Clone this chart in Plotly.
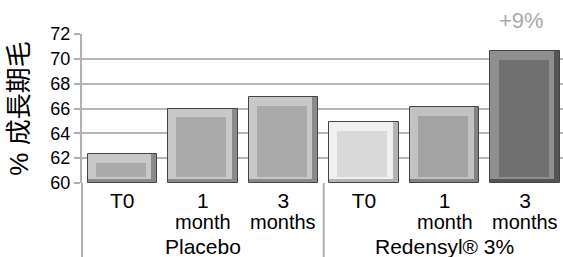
import plotly.graph_objects as go

groups = ["Placebo", "Placebo", "Placebo", "Redensyl® 3%", "Redensyl® 3%", "Redensyl® 3%"]
first_line = ["T0", "1", "3", "T0", "1", "3"]
second_line = ["", "month", "months", "", "month", "months"]
values = [62.3, 66.0, 66.9, 64.9, 66.1, 70.6]
y_ticks = [60, 62, 64, 66, 68, 70, 72]
face_colors = ["#aaaaaa", "#aaaaaa", "#aaaaaa", "#d9d9d9", "#a3a3a3", "#707070"]
light_colors = ["#c8c8c8", "#c8c8c8", "#c8c8c8", "#f0f0f0", "#c2c2c2", "#8f8f8f"]
dark_colors = ["#8a8a8a", "#8a8a8a", "#8a8a8a", "#b3b3b3", "#838383", "#555555"]
note_text = "+9%"

BASE = 60
xs = list(range(len(values)))
heights = [v - BASE for v in values]

fig = go.Figure()
# outer (dark) bevel: right and bottom edges
fig.add_trace(go.Bar(x=xs, y=heights, base=BASE, width=0.86,
                     marker=dict(color=dark_colors, line=dict(width=1, color="#444444")),
                     hoverinfo="skip", showlegend=False))
# light bevel: top and left edges
fig.add_trace(go.Bar(x=xs, y=[h - 0.35 for h in heights], base=BASE + 0.35,
                     width=0.79, offset=-0.43,
                     marker=dict(color=light_colors, line=dict(width=0)),
                     hoverinfo="skip", showlegend=False))
# face
fig.add_trace(go.Bar(x=xs, y=[h - 1.2 for h in heights], base=BASE + 0.5,
                     width=0.62, offset=-0.33,
                     marker=dict(color=face_colors, line=dict(width=0)),
                     showlegend=False))

fig.update_layout(
    width=563, height=257,
    margin=dict(l=82, r=0, t=34, b=74),
    paper_bgcolor="white", plot_bgcolor="white",
    barmode="overlay", bargap=0,
    font=dict(family="Liberation Sans, Arial, sans-serif", color="black"),
    xaxis=dict(range=[-0.5, 5.47], tickmode="array", tickvals=xs,
               ticktext=first_line, tickfont=dict(size=21), automargin=False,
               ticklabelstandoff=3,
               showgrid=False, zeroline=False, showline=False, ticks=""),
    yaxis=dict(range=[BASE, 72], tickmode="array", tickvals=y_ticks,
               tickfont=dict(size=18), showgrid=True, gridcolor="#b6b6b6",
               gridwidth=2, showline=True, linecolor="#b0b0b0", linewidth=2,
               ticks="outside", ticklen=6, tickcolor="#b0b0b0", tickwidth=2,
               zeroline=False, automargin=False,
               title=dict(text="% 成長期毛", standoff=14,
                          font=dict(size=26, family="Liberation Sans, Noto Sans CJK JP"))),
)

# left axis extension and group divider below plot
fig.add_shape(type="line", xref="paper", yref="paper", x0=0, x1=0, y0=-0.5, y1=0,
              line=dict(color="#b0b0b0", width=2))
fig.add_shape(type="line", xref="x", yref="paper", x0=2.5, x1=2.5, y0=-0.5, y1=0,
              line=dict(color="#b0b0b0", width=2))

for x, t in zip(xs, second_line):
    if t:
        fig.add_annotation(x=x, y=-0.265, xref="x", yref="paper", text=t,
                           showarrow=False, yanchor="middle",
                           font=dict(size=20, color="black"))

group_names = []
for g in groups:
    if g not in group_names:
        group_names.append(g)
for g in group_names:
    idx = [i for i, gg in enumerate(groups) if gg == g]
    fig.add_annotation(x=sum(idx) / len(idx), y=-0.425, xref="x", yref="paper",
                       text=g, showarrow=False, yanchor="middle",
                       font=dict(size=21, color="black"))

fig.add_annotation(x=xs[-1] - 0.05, y=1.09, xref="x", yref="paper", text=note_text,
                   showarrow=False, yanchor="middle",
                   font=dict(size=22, color="#aaaaaa"))

fig.write_html("out.html", config={"displayModeBar": False},
               post_script="document.body.style.margin='0px';document.body.style.overflow='hidden';")
